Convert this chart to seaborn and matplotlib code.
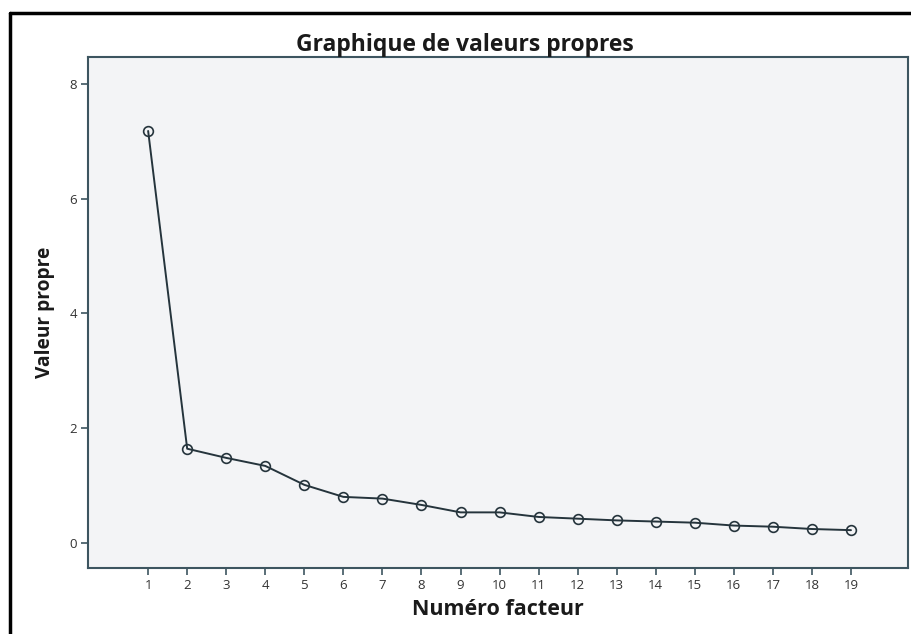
import numpy as np
import pandas as pd
import matplotlib
matplotlib.use("Agg")
import matplotlib.pyplot as plt
import seaborn as sns
from matplotlib.lines import Line2D

# Eigenvalues
factors = list(range(1, 20))
eigenvalues = [7.18, 1.64, 1.48, 1.34, 1.01, 0.80, 0.77, 0.66, 0.53, 0.53,
               0.45, 0.42, 0.39, 0.37, 0.35, 0.30, 0.28, 0.24, 0.22]
y_ticks = [0, 2, 4, 6, 8]

df = pd.DataFrame({"Numéro facteur": factors, "Valeur propre": eigenvalues})

sns.set_style("ticks")
plt.rcParams["font.family"] = ["Open Sans", "DejaVu Sans"]

line_col = "#25343c"
spine_col = "#3d5560"

fig = plt.figure(figsize=(9.11, 6.34), dpi=100)
ax = fig.add_axes([0.0966, 0.1041, 0.9001, 0.806])
ax.set_facecolor("#f3f4f6")

sns.lineplot(
    data=df,
    x="Numéro facteur",
    y="Valeur propre",
    ax=ax,
    color=line_col,
    linewidth=1.4,
    marker="o",
    markersize=7,
    markerfacecolor="none",
    markeredgecolor=line_col,
    markeredgewidth=1.2,
)

ax.set_xlim(-0.54, 20.46)
ax.set_ylim(-0.44, 8.47)
ax.set_xticks(factors)
ax.set_yticks(y_ticks)
ax.tick_params(axis="both", direction="out", length=5, width=1.2,
               color=spine_col, labelsize=9.5, labelcolor="#333333", pad=3)

for s in ax.spines.values():
    s.set_color(spine_col)
    s.set_linewidth(1.5)

ax.set_title("Graphique de valeurs propres", fontsize=16.5, fontweight="bold",
             color="#1a1a1a", pad=4, x=0.46)
ax.set_xlabel("Numéro facteur", fontsize=15.5, fontweight="bold",
              color="#1a1a1a", labelpad=5)
ax.set_ylabel("Valeur propre", fontsize=13.8, fontweight="bold",
              color="#1a1a1a", labelpad=10)

# outer frame lines at left and top of the image
fig.add_artist(Line2D([0.0105, 0.0105], [0, 0.98], transform=fig.transFigure,
                      color="black", linewidth=2.5))
fig.add_artist(Line2D([0.0105, 1.0], [0.98, 0.98], transform=fig.transFigure,
                      color="black", linewidth=2.5))

fig.savefig("out.png", dpi=100, facecolor="white")
